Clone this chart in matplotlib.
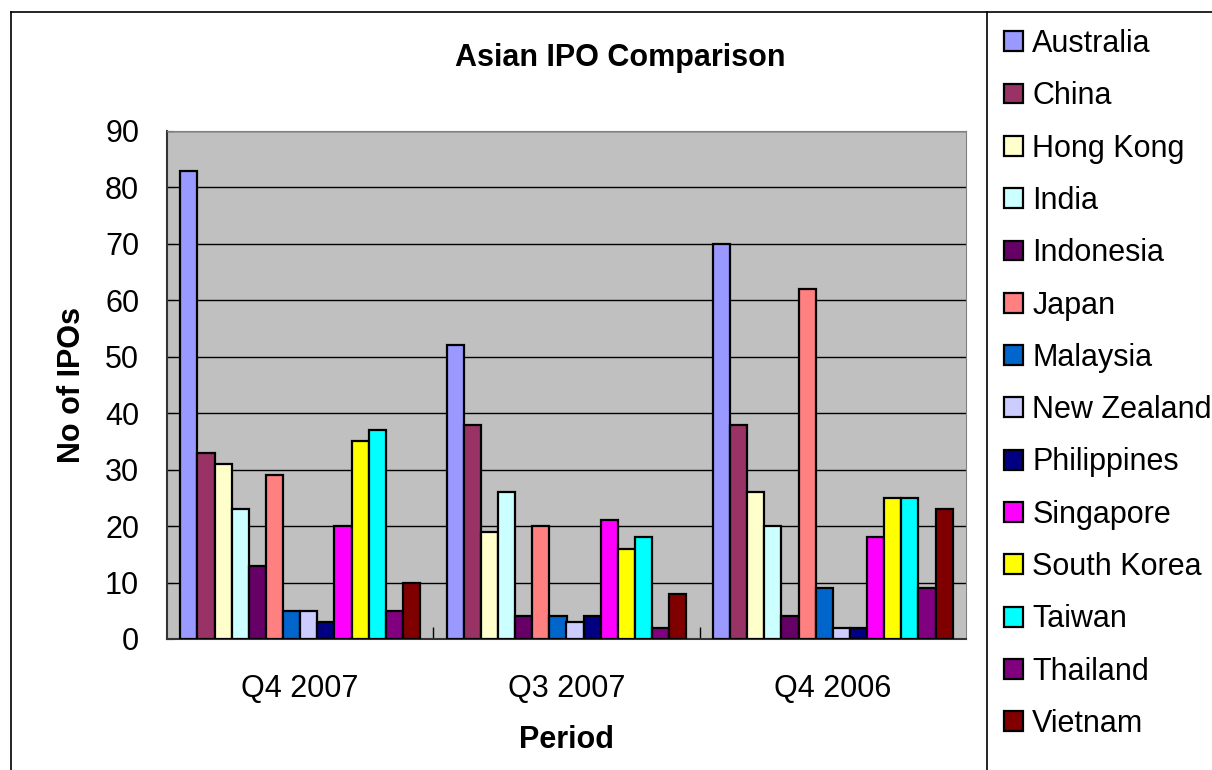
import numpy as np
import matplotlib.pyplot as plt
from matplotlib.lines import Line2D

plt.rcParams['font.family'] = ['Liberation Sans', 'DejaVu Sans']

periods = ['Q4 2007', 'Q3 2007', 'Q4 2006']
countries = ['Australia', 'China', 'Hong Kong', 'India', 'Indonesia', 'Japan',
             'Malaysia', 'New Zealand', 'Philippines', 'Singapore',
             'South Korea', 'Taiwan', 'Thailand', 'Vietnam']

# IPO counts per country, one value per period (Q4 2007, Q3 2007, Q4 2006)
australia = [83, 52, 70]
china = [33, 38, 38]
hong_kong = [31, 19, 26]
india = [23, 26, 20]
indonesia = [13, 4, 4]
japan = [29, 20, 62]
malaysia = [5, 4, 9]
new_zealand = [5, 3, 2]
philippines = [3, 4, 2]
singapore = [20, 21, 18]
south_korea = [35, 16, 25]
taiwan = [37, 18, 25]
thailand = [5, 2, 9]
vietnam = [10, 8, 23]

series = [australia, china, hong_kong, india, indonesia, japan, malaysia,
          new_zealand, philippines, singapore, south_korea, taiwan, thailand, vietnam]
colors = ['#9999FF', '#993366', '#FFFFCC', '#CCFFFF', '#660066', '#FF8080',
          '#0066CC', '#CCCCFF', '#000080', '#FF00FF', '#FFFF00', '#00FFFF',
          '#800080', '#800000']

fig = plt.figure(figsize=(12.12, 7.7), dpi=100)
ax = fig.add_axes([167/1212, 1-639/770, (966-167)/1212, (639-131)/770])
ax.set_facecolor('#C0C0C0')

x = np.arange(len(periods))
n = len(series)
w = 0.9 / n
for i, vals in enumerate(series):
    ax.bar(x - 0.45 + w*(i+0.5), vals, width=w, color=colors[i],
           edgecolor='black', linewidth=1.6, label=countries[i], zorder=3)

ax.set_xlim(-0.5, 2.5)
ax.set_ylim(0, 90)
ax.set_yticks(range(0, 91, 10))
ax.yaxis.grid(True, color='black', linewidth=1, zorder=0)
ax.set_axisbelow(True)
ax.tick_params(axis='y', direction='in', length=5, pad=20, labelsize=22)
ax.set_xticks(x)
ax.set_xticklabels(periods)
ax.set_xticks([0.5, 1.5], minor=True)
ax.tick_params(axis='x', which='major', length=0, pad=25, labelsize=22)
ax.tick_params(axis='x', which='minor', direction='in', length=9, width=1)

for s in ['top', 'right']:
    ax.spines[s].set_color('#808080')
for s in ['left', 'bottom']:
    ax.spines[s].set_color('#333333')
    ax.spines[s].set_linewidth(1.5)

ax.set_ylabel('No of IPOs', fontsize=22, fontweight='bold', labelpad=13)
ax.set_xlabel('Period', fontsize=22, fontweight='bold', labelpad=15)
fig.text(620/1212, 1-58/770, 'Asian IPO Comparison', fontsize=22,
         fontweight='bold', ha='center', va='center')

# chart border and legend box
fig.add_artist(Line2D([11/1212, 1], [1-12/770, 1-12/770], color='black', lw=1.2))
fig.add_artist(Line2D([11/1212, 11/1212], [0, 1-12/770], color='black', lw=1.2))
fig.add_artist(Line2D([987/1212, 987/1212], [0, 1-12/770], color='black', lw=1.2))

fig.legend(loc='upper left', bbox_to_anchor=(1004/1212, 1-29/770), frameon=False,
           fontsize=22, handlelength=0.62, handleheight=0.62, handletextpad=0.3,
           labelspacing=0.73, borderaxespad=0, borderpad=0)

fig.savefig('out.png', dpi=100)
